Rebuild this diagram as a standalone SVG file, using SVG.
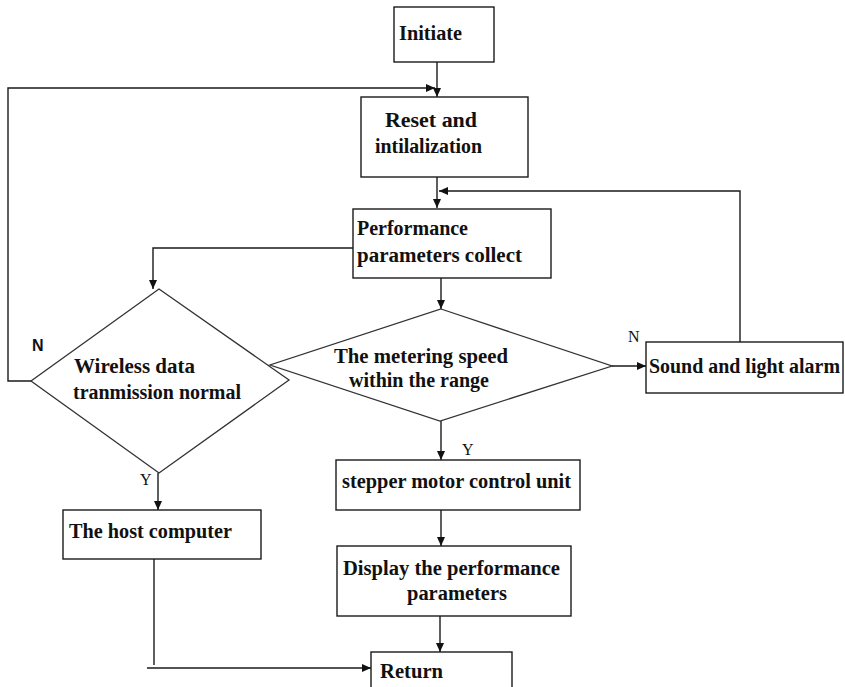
<svg xmlns="http://www.w3.org/2000/svg" width="845" height="687" viewBox="0 0 845 687">
<style>
.box{fill:#fff;stroke:#1a1a1a;stroke-width:1.4}
.dia{fill:none;stroke:#333;stroke-width:1.3}
.ln{fill:none;stroke:#1a1a1a;stroke-width:1.4}
.t{font-family:"Liberation Serif","Times New Roman",serif;font-weight:bold;font-size:20px;fill:#111}
.lbl{font-family:"Liberation Serif","Times New Roman",serif;font-size:16px;fill:#111}
.nb{font-family:"Liberation Sans",Arial,sans-serif;font-weight:bold;font-size:16px;fill:#111}
</style>
<defs>
<marker id="ah" markerUnits="userSpaceOnUse" markerWidth="10" markerHeight="8" refX="9" refY="4" orient="auto"><path d="M0,0 L9,4 L0,8 z" fill="#111"/></marker>
</defs>
<rect width="845" height="687" fill="#fff"/>
<g id="connectors">
<path class="ln" d="M437,62 V97" marker-end="url(#ah)"/>
<path class="ln" d="M31,381 H8 V88 H435" marker-end="url(#ah)"/>
<path class="ln" d="M437,177 V208" marker-end="url(#ah)"/>
<path class="ln" d="M740,342 V191 H439" marker-end="url(#ah)"/>
<path class="ln" d="M353,248 H153 V289" marker-end="url(#ah)"/>
<path class="ln" d="M441,278 V309" marker-end="url(#ah)"/>
<path class="ln" d="M612,366 H646" marker-end="url(#ah)"/>
<path class="ln" d="M441,421 V460" marker-end="url(#ah)"/>
<path class="ln" d="M158,473 V510" marker-end="url(#ah)"/>
<path class="ln" d="M154,559 V665"/>
<path class="ln" d="M147,668 H371" marker-end="url(#ah)"/>
<path class="ln" d="M441,510 V546" marker-end="url(#ah)"/>
<path class="ln" d="M440,616 V652" marker-end="url(#ah)"/>
<text class="nb" x="32" y="351">N</text>
<text class="lbl" x="628" y="342">N</text>
<text class="lbl" x="140" y="485">Y</text>
<text class="lbl" x="462" y="455">Y</text>
</g>
<g id="initiate">
<rect class="box" x="394" y="7" width="100" height="55"/>
<text class="t" x="399" y="40" textLength="63" lengthAdjust="spacingAndGlyphs">Initiate</text>
</g>
<g id="reset">
<rect class="box" x="361" y="97" width="167" height="80"/>
<text class="t" x="385" y="127" textLength="92" lengthAdjust="spacingAndGlyphs">Reset and</text>
<text class="t" x="375" y="153" textLength="107" lengthAdjust="spacingAndGlyphs">intilalization</text>
</g>
<g id="collect">
<rect class="box" x="353" y="209" width="198" height="69"/>
<text class="t" x="357" y="235" textLength="111" lengthAdjust="spacingAndGlyphs">Performance</text>
<text class="t" x="357" y="262" textLength="165" lengthAdjust="spacingAndGlyphs">parameters collect</text>
</g>
<g id="wireless">
<polygon class="dia" points="159,289 289,380 159,473 31,381"/>
<text class="t" x="74" y="373" textLength="121" lengthAdjust="spacingAndGlyphs">Wireless data</text>
<text class="t" x="73" y="399" textLength="168" lengthAdjust="spacingAndGlyphs">tranmission normal</text>
</g>
<g id="metering">
<polygon class="dia" points="441,309 612,366 440,421 270,365"/>
<text class="t" x="334" y="363" textLength="174" lengthAdjust="spacingAndGlyphs">The metering speed</text>
<text class="t" x="349" y="387" textLength="140" lengthAdjust="spacingAndGlyphs">within the range</text>
</g>
<g id="alarm">
<rect class="box" x="646" y="342" width="197" height="51"/>
<text class="t" x="649" y="373" textLength="191" lengthAdjust="spacingAndGlyphs">Sound and light alarm</text>
</g>
<g id="stepper">
<rect class="box" x="336" y="460" width="244" height="50"/>
<text class="t" x="342" y="488" textLength="229" lengthAdjust="spacingAndGlyphs">stepper motor control unit</text>
</g>
<g id="host">
<rect class="box" x="63" y="510" width="198" height="49"/>
<text class="t" x="69" y="538" textLength="163" lengthAdjust="spacingAndGlyphs">The host computer</text>
</g>
<g id="display">
<rect class="box" x="337" y="546" width="234" height="70"/>
<text class="t" x="343" y="575" textLength="217" lengthAdjust="spacingAndGlyphs">Display the performance</text>
<text class="t" x="407" y="600" textLength="100" lengthAdjust="spacingAndGlyphs">parameters</text>
</g>
<g id="return">
<rect class="box" x="371" y="652" width="141" height="60"/>
<text class="t" x="380" y="678" textLength="63" lengthAdjust="spacingAndGlyphs">Return</text>
</g>
</svg>
